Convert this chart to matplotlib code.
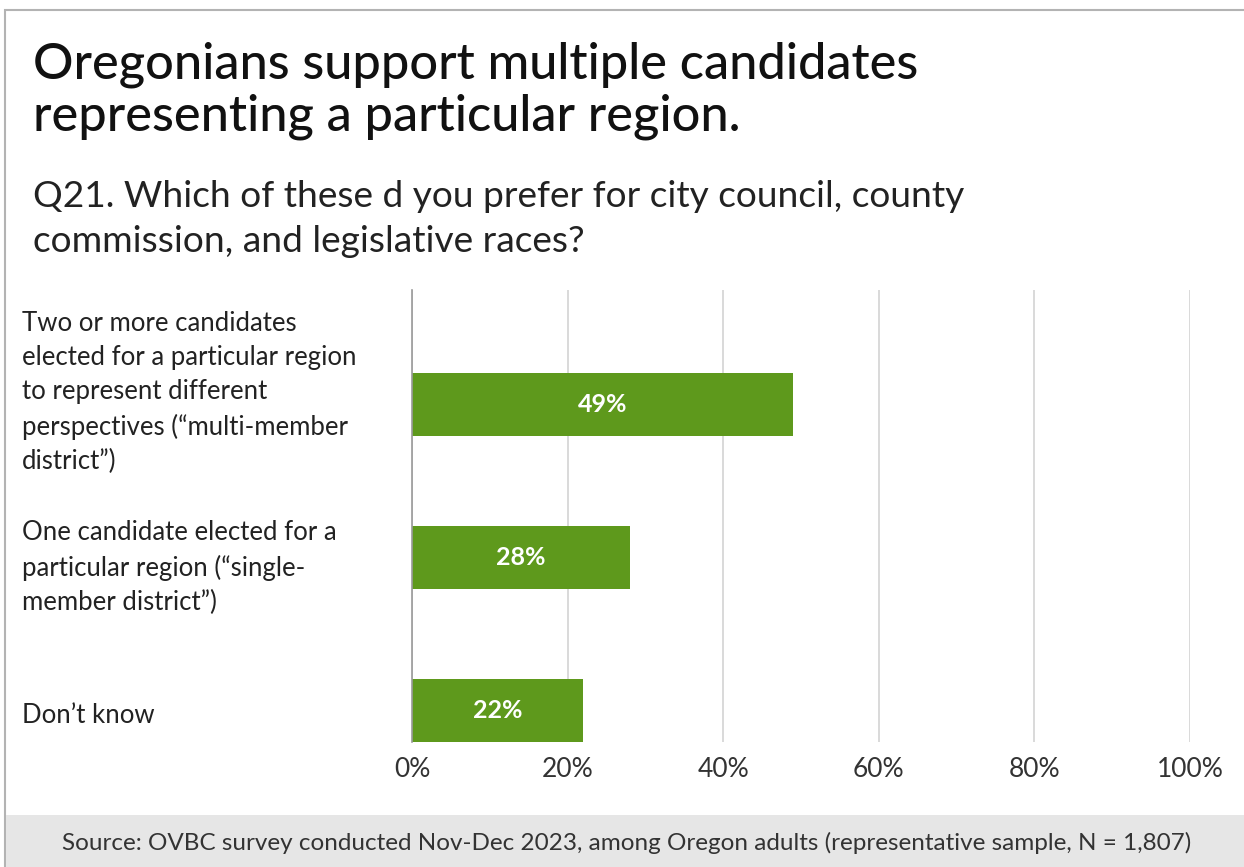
import matplotlib
matplotlib.use("Agg")
import matplotlib.pyplot as plt
from matplotlib.patches import Rectangle

# Survey responses (share of respondents, %)
categories = [
    "Two or more candidates\nelected for a particular region\nto represent different\nperspectives (\u201cmulti-member\ndistrict\u201d)",
    "One candidate elected for a\nparticular region (\u201csingle-\nmember district\u201d)",
    "Don\u2019t know",
]
values = [49, 28, 22]
xticks = [0, 20, 40, 60, 80, 100]
xtick_labels = ["0%", "20%", "40%", "60%", "80%", "100%"]

title_lines = ["Oregonians support multiple candidates",
               "representing a particular region."]
subtitle_lines = ["Q21. Which of these d you prefer for city council, county",
                  "commission, and legislative races?"]
source = ("Source: OVBC survey conducted Nov-Dec 2023, among Oregon adults "
          "(representative sample, N = 1,807)")

plt.rcParams["font.family"] = ["Lato", "DejaVu Sans"]

W, H = 1244, 867
fig = plt.figure(figsize=(W / 100, H / 100), dpi=100)
fig.patch.set_facecolor("white")


def fy(py):
    """Pixel row (from top) to figure fraction."""
    return 1 - py / H


# Outer frame and footer band
fig.add_artist(Rectangle((5 / W, 0), 1.2, fy(10), transform=fig.transFigure,
                         facecolor="none", edgecolor="#b3b3b3", linewidth=1.5))
fig.add_artist(Rectangle((6 / W, 0), 1.0, 52 / H, transform=fig.transFigure,
                         facecolor="#e6e6e6", edgecolor="none"))

for line, base in zip(title_lines, [78, 130]):
    fig.text(33 / W, fy(base), line, ha="left", va="baseline", fontsize=36.4,
             fontweight="medium", color="#111111")
for line, base in zip(subtitle_lines, [207, 252]):
    fig.text(33 / W, fy(base), line, ha="left", va="baseline", fontsize=26.7,
             color="#222222")
fig.text(627 / W, 24 / H, source, ha="center", va="center", fontsize=17.5,
         color="#333333")

# Plot area
x0, x1 = 412, 1190
y_top, y_bot = 290, 742
ax = fig.add_axes([x0 / W, 1 - y_bot / H, (x1 - x0) / W, (y_bot - y_top) / H])
pos = list(range(len(values)))
bar_h = 0.412
bars = ax.barh(pos, values, height=bar_h, color="#5e991c", zorder=3)
ax.set_xlim(0, 100)
ax.set_ylim(2 + bar_h / 2, -0.748)

ax.set_xticks(xticks)
ax.set_xticklabels(xtick_labels, fontsize=19, color="#333333")
ax.tick_params(axis="x", length=0, pad=11)
ax.set_yticks(pos)
ax.set_yticklabels([])
ax.tick_params(axis="y", length=0)
ax.grid(axis="x", color="#d3d3d3", linewidth=1.2, zorder=0)
for s in ["top", "right", "bottom"]:
    ax.spines[s].set_visible(False)
ax.spines["left"].set_color("#9a9a9a")
ax.spines["left"].set_linewidth(1.2)
ax.spines["left"].set_zorder(4)

for b, v in zip(bars, values):
    ax.text(v / 2, b.get_y() + b.get_height() / 2, f"{v}%", ha="center",
            va="center", color="white", fontsize=18, fontweight="bold",
            zorder=5)

# Category labels, left-aligned in figure space
label_shift = [12, -10, -5]  # pixels, relative to bar centre
for p, label, dy in zip(pos, categories, label_shift):
    ax.annotate(label, xy=(22 / W, p), xycoords=("figure fraction", "data"),
                xytext=(0, dy), textcoords="offset pixels",
                ha="left", va="center", fontsize=18.5, color="#222222",
                linespacing=1.46, annotation_clip=False)

fig.savefig("out.png", dpi=100, facecolor="white")
